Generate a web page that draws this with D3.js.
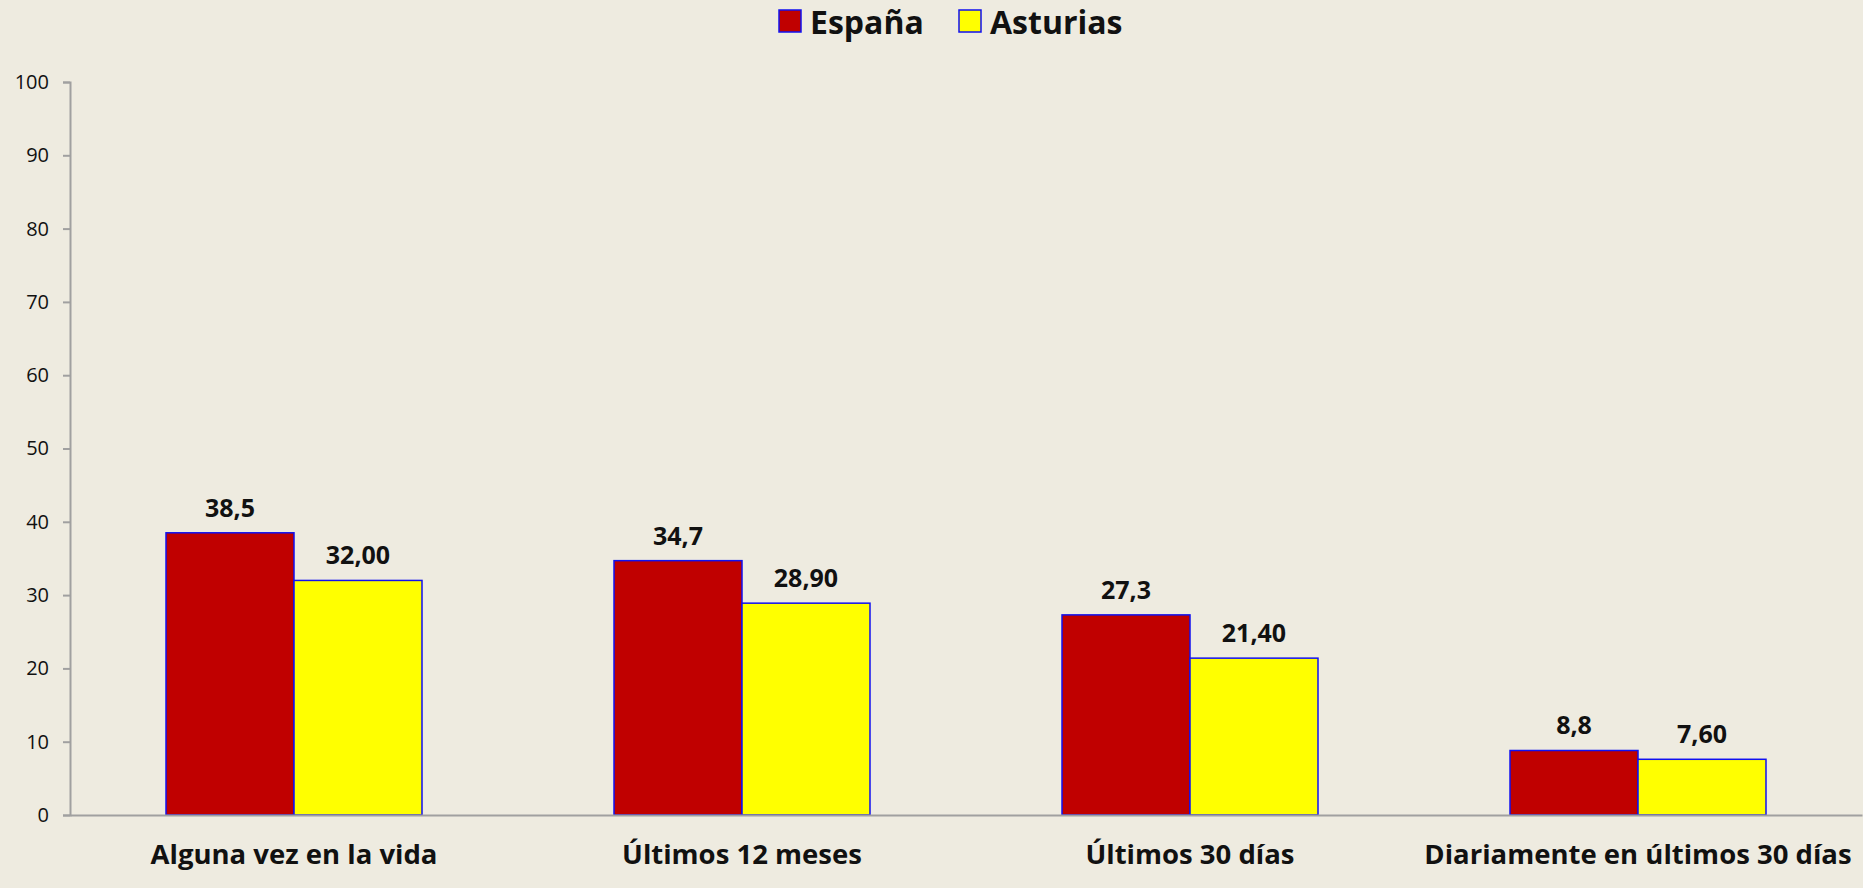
<!DOCTYPE html>
<html>
<head>
<meta charset="utf-8">
<script src="https://cdn.jsdelivr.net/npm/d3@7"></script>
<style>
  body { margin: 0; background: #EEEBE0; }
  svg { display: block; font-family: "Open Sans", sans-serif; }
</style>
</head>
<body>
<div class="canvas"></div>
<script>
// data
const categories = ['Alguna vez en la vida', 'Últimos 12 meses', 'Últimos 30 días', 'Diariamente en últimos 30 días'];
const seriesNames = ['España', 'Asturias'];
const espana = [38.5, 34.7, 27.3, 8.8];
const asturias = [32.0, 28.9, 21.4, 7.6];
const espanaLabels = ['38,5', '34,7', '27,3', '8,8'];
const asturiasLabels = ['32,00', '28,90', '21,40', '7,60'];
const yTicks = [0, 10, 20, 30, 40, 50, 60, 70, 80, 90, 100];
const colours = ['#C00000', '#FFFF00'];

const font = '"Open Sans", sans-serif';
const dims = { width: 1863, height: 888 };
const margin = { top: 82, right: 1, bottom: 73, left: 70 };
const innerW = dims.width - margin.left - margin.right;
const innerH = dims.height - margin.top - margin.bottom;

const svg = d3.select('.canvas')
  .append('svg')
  .attr('width', dims.width)
  .attr('height', dims.height);

svg.append('rect')
  .attr('width', dims.width)
  .attr('height', dims.height)
  .attr('fill', '#EEEBE0');

const graph = svg.append('g')
  .attr('transform', `translate(${margin.left}, ${margin.top})`);

const x0 = d3.scaleBand()
  .domain(categories)
  .range([0, innerW])
  .paddingInner(0)
  .paddingOuter(0);

// bars take the middle 256 of each 448 wide band
const x1 = d3.scaleBand()
  .domain(seriesNames)
  .range([x0.bandwidth() * 0.2143, x0.bandwidth() * 0.7857]);

const y = d3.scaleLinear()
  .domain([0, 100])
  .range([innerH, 0]);

const rows = categories.map((c, i) => ({
  cat: c,
  vals: [
    { name: seriesNames[0], value: espana[i], label: espanaLabels[i] },
    { name: seriesNames[1], value: asturias[i], label: asturiasLabels[i] }
  ]
}));

// y axis
const yAxis = d3.axisLeft(y)
  .tickValues(yTicks)
  .tickSize(7)
  .tickPadding(14);

const yAxisGroup = graph.append('g')
  .call(yAxis)
  .attr('font-family', font);
yAxisGroup.select('.domain').attr('stroke', '#A0A0A0').attr('stroke-width', 2);
yAxisGroup.selectAll('.tick line').attr('stroke', '#A0A0A0').attr('stroke-width', 2);
yAxisGroup.selectAll('.tick text')
  .attr('fill', '#111')
  .attr('font-size', 20);

// groups
const groups = graph.selectAll('g.grp')
  .data(rows)
  .enter()
  .append('g')
  .attr('class', 'grp')
  .attr('transform', d => `translate(${x0(d.cat)}, 0)`);

groups.selectAll('rect')
  .data(d => d.vals)
  .enter()
  .append('rect')
  .attr('x', d => x1(d.name))
  .attr('y', d => y(d.value))
  .attr('width', x1.bandwidth())
  .attr('height', d => innerH - y(d.value))
  .attr('fill', (d, i) => colours[i])
  .attr('stroke', '#1010F0')
  .attr('stroke-width', 1.5);

groups.selectAll('text.val')
  .data(d => d.vals)
  .enter()
  .append('text')
  .attr('class', 'val')
  .attr('x', d => x1(d.name) + x1.bandwidth() / 2)
  .attr('y', d => y(d.value) - 16)
  .attr('text-anchor', 'middle')
  .attr('font-size', 25)
  .attr('font-weight', 'bold')
  .attr('fill', '#111')
  .text(d => d.label);

// x axis
const xAxis = d3.axisBottom(x0).tickSize(0).tickPadding(29);
const xAxisGroup = graph.append('g')
  .attr('transform', `translate(0, ${innerH})`)
  .call(xAxis)
  .attr('font-family', font);
xAxisGroup.select('.domain').attr('stroke', '#A0A0A0').attr('stroke-width', 2);
xAxisGroup.selectAll('.tick text')
  .attr('fill', '#111')
  .attr('font-size', 27.5)
  .attr('font-weight', 'bold');

// legend
const legend = svg.append('g').attr('transform', 'translate(779, 10)');
const legendX = [0, 180];
seriesNames.forEach((name, i) => {
  const g = legend.append('g').attr('transform', `translate(${legendX[i]}, 0)`);
  g.append('rect')
    .attr('width', 22)
    .attr('height', 22)
    .attr('fill', colours[i])
    .attr('stroke', '#1010F0')
    .attr('stroke-width', 1.5);
  g.append('text')
    .attr('x', 31)
    .attr('y', 24)
    .attr('font-size', 32)
    .attr('font-weight', 'bold')
    .attr('fill', '#111')
    .text(name);
});
</script>
</body>
</html>
